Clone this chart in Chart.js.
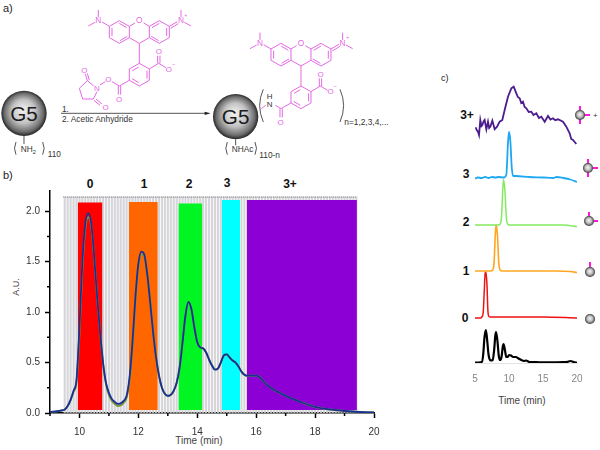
<!DOCTYPE html>
<html>
<head>
<meta charset="utf-8">
<title>G5 dendrimer HPLC</title>
<script src="https://cdn.jsdelivr.net/npm/chart.js@4"></script>
<style>
    html, body { margin: 0; padding: 0; background: #fff; }
    #page { position: relative; width: 600px; height: 450px; overflow: hidden; }
    #scheme { position: absolute; left: 0; top: 0; }
    #chartB { position: absolute; left: 0; top: 180px; }
    #chartC { position: absolute; left: 420px; top: 70px; }
    text { font-family: "Liberation Sans", Arial, sans-serif; }
</style>
</head>
<body>
<div id="page">
<svg id="scheme" width="600" height="450" viewBox="0 0 600 450">
    <defs>
        <radialGradient id="ball" cx="50%" cy="50%" r="52%" fx="48%" fy="42%">
            <stop offset="0" stop-color="#f5f5f5"/>
            <stop offset="0.5" stop-color="#c2c2c2"/>
            <stop offset="0.82" stop-color="#6c6c6c"/>
            <stop offset="1" stop-color="#141414"/>
        </radialGradient>
        <g id="dye" fill="none" stroke="#e468e4" stroke-width="3">
            <!-- xanthene -->
            <path d="M405 69L388 79V113L418 130L448 113V79L431 69"/>
            <path d="M388 79L358 62L328 79V113L358 130L388 113"/>
            <path d="M448 79L478 62L508 79V113L478 130L448 113"/>
            <path d="M336 84V108M360 122L382 109M358 70L380 83M500 84V108M476 122L454 109M478 70L456 83"/>
            <path d="M328 79L306 66M295 52V30M285 67L265 78"/>
            <path d="M508 79L532 65M512 85L535 71M543 52V30M553 67L573 78"/>
            <!-- phenyl ring and carboxylate -->
            <path d="M418 130V190"/>
            <path d="M418 190L448 207V241L418 258L388 241V207Z"/>
            <path d="M397 212L416 201M441 212V236M396 236L416 248"/>
            <path d="M448 207L476 190L498 203M473 190V167M480 190V167"/>
            <g fill="#e468e4" stroke="none" font-size="24">
                <text x="295" y="70" text-anchor="middle" font-size="25">N</text>
                <text x="418" y="70" text-anchor="middle" font-size="25">O</text>
                <text x="543" y="70" text-anchor="middle" font-size="25">N</text>
                <text x="553" y="50" font-size="16">+</text>
                <text x="477" y="163" text-anchor="middle">O</text>
                <text x="507" y="215" text-anchor="middle">O</text>
                <text x="516" y="197" font-size="18">−</text>
            </g>
        </g>
    </defs>

    <g font-size="12" fill="#222">
        <text x="3" y="12" font-size="11">a)</text>
        <text x="3" y="179" font-size="11">b)</text>
        <text x="441" y="81" font-size="9" font-family="Liberation Serif">c)</text>
    </g>

    <!-- reaction scheme, drawn at 3x and scaled down -->
    <g transform="scale(0.3333)">
        <use href="#dye"/>
        <use href="#dye" transform="translate(485,68)"/>

        <g fill="none" stroke="#e468e4" stroke-width="3">
            <path d="M388 241L358 258L336 245M355 258V284M362 258V284"/>
            <path d="M316 245L300 255M281 258L262 242L238 265L248 297H280L291 275M262 242L256 222M268 240L262 220M288 297L306 312M282 301L300 316"/>
            <path d="M873 309L843 326L826 316M840 326V352M847 326V352M797 316L784 326"/>
        </g>
        <g fill="#e468e4" font-size="24" text-anchor="middle">
            <text x="357" y="306">O</text>
            <text x="325" y="246">O</text>
            <text x="291" y="273">N</text>
            <text x="253" y="220">O</text>
            <text x="317" y="329">O</text>
            <text x="842" y="374">O</text>
        </g>

        <circle cx="72" cy="340" r="68" fill="url(#ball)"/>
        <circle cx="707" cy="350" r="68" fill="url(#ball)"/>
        <g fill="#1c1c1c" font-size="62" text-anchor="middle">
            <text x="72" y="363">G5</text>
            <text x="707" y="373">G5</text>
        </g>

        <g fill="none" stroke="#333" stroke-width="2.5">
            <path d="M72 408V432M707 418V436"/>
            <path d="M48 426Q39 445 48 464M128 426Q137 445 128 464"/>
            <path d="M682 426Q673 445 682 464M765 426Q774 445 765 464"/>
            <path d="M790 268Q768 316 790 366M1020 268Q1042 316 1020 366"/>
            <path d="M183 340H620"/>
        </g>
        <path d="M632 340L614 335V345Z" fill="#222"/>

        <g fill="#333" font-size="25">
            <text x="186" y="336">1.</text>
            <text x="186" y="366">2. Acetic Anhydride</text>
            <text x="62" y="456">NH<tspan font-size="17" dy="5">2</tspan></text>
            <text x="143" y="470">110</text>
            <text x="695" y="456">NHAc</text>
            <text x="778" y="474">110-n</text>
            <text x="1033" y="376">n=1,2,3,4,...</text>
            <text x="800" y="297" font-size="24">H</text>
            <text x="800" y="320" font-size="24">N</text>
        </g>
    </g>

    <!-- peak labels of panel b -->
    <g font-size="12" font-weight="bold" fill="#111" text-anchor="middle">
        <text x="90" y="188">0</text>
        <text x="144" y="188">1</text>
        <text x="189" y="188">2</text>
        <text x="227" y="187">3</text>
        <text x="290" y="188">3+</text>
    </g>
    <text x="199" y="444" font-size="10" fill="#444" text-anchor="middle">Time (min)</text>
    <text x="19" y="287" font-size="9" fill="#444" text-anchor="middle" transform="rotate(-90 19 287)">A.U.</text>

    <!-- panel c labels and small dendrimers -->
    <g font-size="12" font-weight="bold" fill="#111" text-anchor="middle">
        <text x="467" y="119">3+</text>
        <text x="466" y="178">3</text>
        <text x="466" y="226">2</text>
        <text x="466" y="275">1</text>
        <text x="465" y="322">0</text>
    </g>
    <text x="522" y="404" font-size="10" fill="#444" text-anchor="middle">Time (min)</text>
    <g fill="none" stroke="#ff18d8" stroke-width="2">
        <path d="M580 106V124M580 115H590M588 159V177M588 168H598M589 212V221H598M590 262V272"/>
    </g>
    <g fill="url(#ball)">
        <circle cx="580" cy="115" r="5"/>
        <circle cx="588" cy="168" r="5"/>
        <circle cx="589" cy="221" r="5"/>
        <circle cx="590" cy="272" r="5"/>
        <circle cx="590" cy="319" r="5"/>
    </g>
    <text x="593" y="118" font-size="8" fill="#333">+</text>
</svg>
<canvas id="chartB" width="400" height="270"></canvas>
<canvas id="chartC" width="180" height="330"></canvas>
</div>

<script>
// panel b: HPLC trace
const timeB = [9, 9.2, 9.4, 9.5, 9.6, 9.7, 9.8, 9.9, 10, 10.1, 10.2, 10.3, 10.4, 10.5, 10.6, 10.7, 10.8, 10.9, 11, 11.1,
    11.2, 11.3, 11.4, 11.5, 11.6, 11.7, 11.8, 11.9, 12, 12.1, 12.2, 12.3, 12.4, 12.5, 12.6, 12.7, 12.8, 12.9, 13, 13.1,
    13.2, 13.3, 13.4, 13.5, 13.6, 13.7, 13.8, 13.9, 14, 14.1, 14.2, 14.3, 14.4, 14.5, 14.6, 14.7, 14.8, 14.9, 15, 15.1,
    15.2, 15.3, 15.4, 15.5, 15.6, 15.7, 15.8, 16, 16.1, 16.2, 16.4, 16.6, 16.8, 17, 17.5, 18, 18.5, 19, 19.5, 20];
const signalB = [0.01, 0.015, 0.025, 0.035, 0.07, 0.13, 0.22, 0.33, 0.85, 1.5, 1.88, 1.98, 1.88, 1.55, 1.15, 0.8, 0.5, 0.3, 0.2, 0.14,
    0.11, 0.09, 0.095, 0.12, 0.17, 0.35, 0.7, 1.15, 1.48, 1.6, 1.57, 1.38, 1.1, 0.8, 0.55, 0.37, 0.25, 0.19, 0.17, 0.18,
    0.22, 0.3, 0.45, 0.7, 0.97, 1.1, 1.03, 0.85, 0.7, 0.65, 0.64, 0.6, 0.53, 0.47, 0.43, 0.44, 0.5, 0.57, 0.58, 0.55,
    0.52, 0.5, 0.46, 0.41, 0.38, 0.37, 0.37, 0.37, 0.36, 0.33, 0.27, 0.23, 0.2, 0.17, 0.11, 0.06, 0.035, 0.02, 0.01, 0.005];
const underB = [0.01, 0.015, 0.025, 0.035, 0.07, 0.13, 0.21, 0.3, 0.8, 1.45, 1.84, 1.94, 1.86, 1.54, 1.15, 0.8, 0.5, 0.29, 0.18, 0.12,
    0.09, 0.07, 0.075, 0.1, 0.15, 0.32, 0.66, 1.1, 1.44, 1.57, 1.56, 1.38, 1.12, 0.82, 0.56, 0.37, 0.25, 0.19, 0.17, 0.18,
    0.22, 0.3, 0.45, 0.7, 0.97, 1.09, 1.03, 0.85, 0.7, 0.65, 0.64, 0.6, 0.53, 0.47, 0.43, 0.44, 0.5, 0.57, 0.58, 0.55,
    0.52, 0.5, 0.46, 0.41, 0.38, 0.37, 0.37, 0.37, 0.36, 0.33, 0.27, 0.23, 0.2, 0.17, 0.11, 0.06, 0.035, 0.02, 0.01, 0.005];

const bandStart = [9.94, 11.68, 13.36, 14.84, 15.68];
const bandEnd = [10.78, 12.66, 14.17, 15.45, 19.42];
const bandTop = [2.085, 2.09, 2.075, 2.11, 2.11];
const bandBottom = [0.03, 0.03, 0.03, 0.03, 0.03];
const bandColors = ["#ff0000", "#ff6600", "#00f523", "#00ffff", "#8c00d6"];

const fractionTop = 2.14;
const fractionTimes = [
    9.5, 9.6, 9.7, 9.8, 9.9, 10, 10.1, 10.2, 10.3, 10.4,
    10.5, 10.6, 10.7, 10.8, 10.9, 11, 11.1, 11.2, 11.3, 11.4,
    11.5, 11.6, 11.7, 11.8, 11.9, 12, 12.1, 12.2, 12.3, 12.4,
    12.5, 12.6, 12.7, 12.8, 12.9, 13, 13.1, 13.2, 13.3, 13.4,
    13.5, 13.6, 13.7, 13.8, 13.9, 14, 14.1, 14.2, 14.3, 14.4,
    14.5, 14.6, 14.7, 14.8, 14.9, 15, 15.1, 15.2, 15.3, 15.4,
    15.5, 15.6, 15.7, 15.8, 15.9, 16, 16.1, 16.2, 16.3, 16.4,
    16.5, 16.6, 16.7, 16.8, 16.9, 17, 17.1, 17.2, 17.3, 17.4,
    17.5, 17.6, 17.7, 17.8, 17.9, 18, 18.1, 18.2, 18.3, 18.4,
    18.5, 18.6, 18.7, 18.8, 18.9, 19, 19.1, 19.2, 19.3, 19.4
];
const minorTicksX = [9, 11, 13, 15, 17, 19];
const minorTicksY = [0.25, 0.75, 1.25, 1.75];

// panel c: stacked fraction traces, each [time, signal + offset]
const traceBlack = [[5, 0.5], [5.5, 0.5], [6, 1], [6.2, 8], [6.4, 26], [6.6, 33], [6.8, 22], [7, 8], [7.3, 2.5], [7.6, 3],
    [7.8, 12], [8, 28], [8.1, 31], [8.3, 22], [8.5, 7], [8.7, 3], [8.9, 6], [9.1, 17], [9.2, 19], [9.4, 13], [9.6, 6],
    [9.8, 6], [10, 8], [10.3, 7.5], [10.6, 6], [11, 6], [11.4, 4.5], [11.8, 3], [12.2, 2], [12.5, 2.5], [13, 1], [14, 0.8],
    [15, 0.7], [16, 0.7], [17, 0.7], [18, 0.8], [18.6, 1.2], [19, 2], [19.5, 1], [20, 0.3]];
const traceZero = [[5, 45], [5.8, 45], [6, 46], [6.2, 50], [6.35, 70], [6.5, 90], [6.6, 91], [6.75, 80], [6.9, 52], [7, 47],
    [7.2, 46], [10, 46], [15, 46], [20, 45]];
const traceOne = [[5, 92], [7.3, 92], [7.6, 93], [7.8, 100], [8, 130], [8.1, 138], [8.3, 128], [8.5, 100], [8.7, 93], [9, 92],
    [12, 92], [17, 92], [19, 91.5], [20, 90.5]];
const traceTwo = [[5, 138], [8.4, 138], [8.7, 139], [8.9, 146], [9.1, 176], [9.2, 183.5], [9.4, 172], [9.6, 146], [9.8, 139], [10.1, 138],
    [15, 138], [18, 138], [20, 136.5]];
const traceThree = [[5, 184.5], [5.4, 185.5], [6, 185], [6.5, 186], [7, 185], [7.5, 186], [8, 185.5], [8.5, 186], [9.2, 185.5],
    [9.6, 188], [9.85, 220], [10, 231], [10.2, 222], [10.4, 196], [10.6, 187], [11, 187], [13, 186], [15, 185.5], [16.5, 185],
    [17, 186], [18, 185], [19, 183.5], [20, 181]];
const tracePlus = [[5.1, 235.7], [5.25, 233], [5.44, 231.3], [5.59, 228], [5.78, 243], [5.95, 237], [6.08, 238], [6.25, 241.5], [6.42, 243],
    [6.67, 233.7], [6.91, 241.3], [7.08, 235], [7.25, 236.3], [7.55, 242.3], [7.89, 233.7], [8.24, 236.3], [8.63, 241.3],
    [9.02, 243], [9.36, 253], [9.85, 266.3], [10.34, 274.7], [10.69, 276.3], [11.08, 269.7], [11.3, 266], [11.57, 264.7],
    [11.8, 260], [12.06, 261.3], [12.3, 256], [12.55, 254.7], [12.9, 251], [13.28, 251.3], [13.6, 248], [14.02, 249.7],
    [14.4, 245], [14.75, 246.3], [15.25, 241.3], [15.74, 247], [16.1, 243.5], [16.47, 244.7], [16.8, 242.8], [17.21, 243.7],
    [17.94, 241.3], [18.43, 236.3], [18.92, 229.7], [19.15, 224], [19.41, 223], [19.9, 219]];

const traceSets = [tracePlus, traceThree, traceTwo, traceOne, traceZero, traceBlack];
const traceColors = ["#4c1c8e", "#1ea8f2", "#84ea62", "#ffa620", "#ee1212", "#000000"];
const traceWidths = [1.8, 1.8, 1.5, 1.6, 1.5, 2.2];

const fontName = "'Liberation Sans', Arial, sans-serif";

// Chart.js has no minor ticks, so stroke them from the scales
const minorTickPlugin = {
    id: "minorTicks",
    afterDraw(chart) {
        const { ctx, scales, chartArea } = chart;
        ctx.save();
        ctx.strokeStyle = "#000";
        ctx.lineWidth = 1.5;
        ctx.beginPath();
        minorTicksX.forEach(function (t) {
            const px = scales.x.getPixelForValue(t);
            ctx.moveTo(px, chartArea.bottom);
            ctx.lineTo(px, chartArea.bottom + 3);
        });
        minorTicksY.forEach(function (v) {
            const py = scales.y.getPixelForValue(v);
            ctx.moveTo(chartArea.left, py);
            ctx.lineTo(chartArea.left - 3, py);
        });
        ctx.stroke();
        ctx.restore();
    }
};

function bandDatasets() {
    return bandStart.map(function (start, i) {
        return {
            type: "line",
            data: [{ x: start, y: bandTop[i] }, { x: bandEnd[i], y: bandTop[i] }],
            backgroundColor: bandColors[i],
            borderWidth: 0,
            pointRadius: 0,
            fill: { value: bandBottom[i] },
            order: 4
        };
    });
}

function pairUp(times, values) {
    return times.map(function (t, i) {
        return { x: t, y: values[i] };
    });
}

new Chart(document.getElementById("chartB"), {
    type: "bar",
    data: {
        datasets: [
            {
                data: fractionTimes.map(function (t) { return { x: t, y: fractionTop }; }),
                backgroundColor: "#d6d6da",
                barThickness: 1.5,
                order: 6
            },
            {
                type: "line",
                data: [{ x: 9.45, y: fractionTop }, { x: 19.42, y: fractionTop }],
                borderColor: "#666",
                borderWidth: 1,
                borderDash: [1, 1],
                pointRadius: 0,
                order: 5
            },
            ...bandDatasets(),
            {
                type: "line",
                data: pairUp(timeB, underB),
                borderColor: "#7f9a3a",
                borderWidth: 2,
                pointRadius: 0,
                cubicInterpolationMode: "monotone",
                order: 3
            },
            {
                type: "line",
                data: pairUp(timeB, signalB),
                borderColor: "#1a2f96",
                borderWidth: 1.8,
                pointRadius: 0,
                cubicInterpolationMode: "monotone",
                order: 1
            }
        ]
    },
    options: {
        responsive: false,
        animation: false,
        layout: { padding: { top: 10.8, right: 26, left: 0, bottom: 0 } },
        plugins: { legend: { display: false }, tooltip: { enabled: false } },
        scales: {
            x: {
                type: "linear",
                min: 9,
                max: 20,
                offset: false,
                afterFit: function (scale) { scale.height = 37; },
                border: { color: "#000", width: 1.5 },
                grid: { drawOnChartArea: false, offset: false, color: "#000", tickLength: 5, tickWidth: 1.5 },
                ticks: {
                    stepSize: 2,
                    maxRotation: 0,
                    includeBounds: false,
                    padding: 8,
                    color: "#333",
                    font: { family: fontName, size: 10 },
                    callback: function (v) { return v % 2 == 0 ? v : ""; }
                }
            },
            y: {
                min: 0,
                max: 2.2,
                afterFit: function (scale) { scale.width = 50; },
                border: { color: "#000", width: 1.5 },
                grid: { drawOnChartArea: false, color: "#000", tickLength: 5, tickWidth: 1.5 },
                ticks: {
                    stepSize: 0.5,
                    includeBounds: false,
                    padding: 5,
                    color: "#333",
                    font: { family: fontName, size: 10 },
                    callback: function (v) { return v.toFixed(1); }
                }
            }
        }
    },
    plugins: [minorTickPlugin]
});

new Chart(document.getElementById("chartC"), {
    type: "line",
    data: {
        datasets: traceSets.map(function (trace, i) {
            return {
                data: trace.map(function (p) { return { x: p[0], y: p[1] }; }),
                borderColor: traceColors[i],
                borderWidth: traceWidths[i],
                pointRadius: 0,
                cubicInterpolationMode: i == 0 ? "default" : "monotone",
                tension: 0
            };
        })
    },
    options: {
        responsive: false,
        animation: false,
        layout: { padding: { top: 13, right: 23, left: 55, bottom: 0 } },
        plugins: { legend: { display: false }, tooltip: { enabled: false } },
        scales: {
            x: {
                type: "linear",
                min: 5,
                max: 20,
                afterFit: function (scale) { scale.height = 37; },
                border: { color: "#e2e2e2", width: 1 },
                grid: { display: false },
                ticks: {
                    stepSize: 5,
                    maxRotation: 0,
                    padding: 2,
                    color: "#888",
                    font: { family: fontName, size: 10 }
                }
            },
            y: { display: false, min: 0, max: 280 }
        }
    }
});
</script>
</body>
</html>
